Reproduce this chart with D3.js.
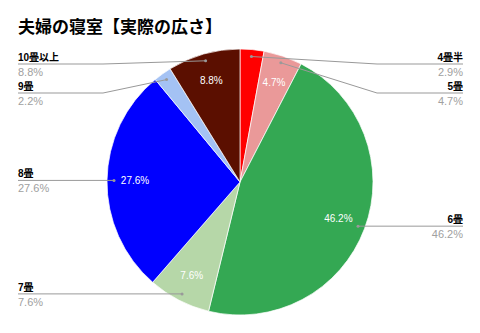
<!DOCTYPE html>
<html>
<head>
<meta charset="utf-8">
<script src="https://cdn.jsdelivr.net/npm/d3@7"></script>
<style>
  body { margin: 0; background: #fff; }
  svg { display: block; }
  text { font-family: "Liberation Sans", "Noto Sans CJK JP", sans-serif; }
</style>
</head>
<body>
<div id="chart"></div>
<script>
// データ
var title = "夫婦の寝室【実際の広さ】";
var categories = ["4畳半", "5畳", "6畳", "7畳", "8畳", "9畳", "10畳以上"];
var values = [2.9, 4.7, 46.2, 7.6, 27.6, 2.2, 8.8];
var colors = ["#ff0000", "#ea9999", "#34a853", "#b6d7a8", "#0000ff", "#a4c2f4", "#5b0f00"];

var width = 480, height = 333;
var cx = 240, cy = 182, radius = 133;

var svg = d3.select("#chart")
	.append("svg")
	.attr("width", width)
	.attr("height", height);

// Tytuł
svg.append("text")
	.attr("x", 18)
	.attr("y", 33)
	.style("font-family", "'Noto Sans CJK JP', sans-serif")
	.style("font-size", "17px")
	.style("font-weight", "bold")
	.style("fill", "#000")
	.text(title);

var data = categories.map(function (c, i) {
	return { name: c, value: values[i], color: colors[i] };
});

var pie = d3.pie().sort(null).value(function (d) { return d.value; });
var arcs = pie(data);

var arc = d3.arc().innerRadius(0).outerRadius(radius);
var labelArc = d3.arc().innerRadius(105).outerRadius(105);
var dotArc = d3.arc().innerRadius(126).outerRadius(126);

var g = svg.append("g").attr("transform", "translate(" + cx + "," + cy + ")");

g.selectAll(".slice")
	.data(arcs)
	.enter()
	.append("path")
	.attr("class", "slice")
	.attr("d", arc)
	.style("fill", function (d) { return d.data.color; })
	.style("stroke", "#fff")
	.style("stroke-width", 0.7);

// Etykiety w środku
g.selectAll(".inner")
	.data(arcs.filter(function (d) { return d.data.value > 3; }))
	.enter()
	.append("text")
	.attr("class", "inner")
	.attr("transform", function (d) { return "translate(" + labelArc.centroid(d) + ")"; })
	.attr("dy", "0.35em")
	.attr("text-anchor", "middle")
	.style("font-size", "10px")
	.style("fill", "#fff")
	.text(function (d) { return d.data.value.toFixed(1) + "%"; });

// Pozycje etykiet bocznych (unikanie kolizji)
var minY = 64 - cy, gap = 29;
arcs.forEach(function (d) {
	var c = dotArc.centroid(d);
	d.dot = c;
	d.right = c[0] > 0;
});
["right", "left"].forEach(function (side) {
	var list = arcs.filter(function (d) { return side === "right" ? d.right : !d.right; })
		.sort(function (a, b) { return a.dot[1] - b.dot[1]; });
	var prev = -Infinity;
	list.forEach(function (d) {
		var y = Math.max(d.dot[1], prev + gap, minY);
		d.ly = y;
		prev = y;
	});
});

var edgeL = 18 - cx, edgeR = 463 - cx, elbow = radius + 4;

var labels = g.selectAll(".outer")
	.data(arcs)
	.enter()
	.append("g")
	.attr("class", "outer");

labels.append("polyline")
	.attr("points", function (d) {
		var ex = d.right ? elbow : -elbow;
		var end = d.right ? edgeR : edgeL;
		var pts = [d.dot];
		if (Math.abs(d.ly - d.dot[1]) > 0.5) pts.push([ex, d.ly]);
		pts.push([end, d.ly]);
		return pts.map(function (p) { return p.join(","); }).join(" ");
	})
	.style("fill", "none")
	.style("stroke", "#999")
	.style("stroke-width", 1);

labels.append("circle")
	.attr("cx", function (d) { return d.dot[0]; })
	.attr("cy", function (d) { return d.dot[1]; })
	.attr("r", 1.5)
	.style("fill", "#999");

labels.append("text")
	.attr("x", function (d) { return d.right ? edgeR : edgeL; })
	.attr("y", function (d) { return d.ly - 3; })
	.attr("text-anchor", function (d) { return d.right ? "end" : "start"; })
	.style("font-size", "10px")
	.style("font-weight", "bold")
	.style("fill", "#000")
	.text(function (d) { return d.data.name; });

labels.append("text")
	.attr("x", function (d) { return d.right ? edgeR : edgeL; })
	.attr("y", function (d) { return d.ly + 12; })
	.attr("text-anchor", function (d) { return d.right ? "end" : "start"; })
	.style("font-size", "11px")
	.style("fill", "#a0a0a0")
	.text(function (d) { return d.data.value.toFixed(1) + "%"; });
</script>
</body>
</html>
